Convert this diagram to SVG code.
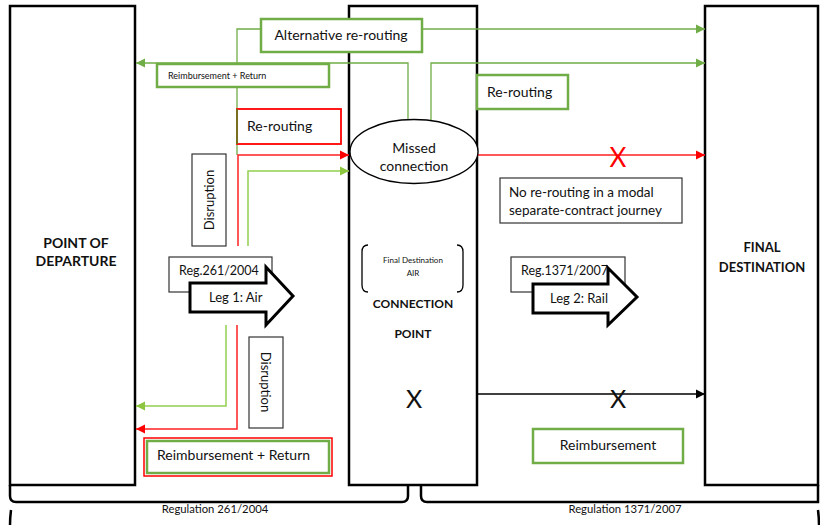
<svg xmlns="http://www.w3.org/2000/svg" width="820" height="525" viewBox="0 0 820 525">
<defs>
<style>
text{font-family:Lato,"Open Sans","Liberation Sans",sans-serif;fill:#111}
.big{stroke:#000;stroke-width:2.5;fill:#fff}
.gbox{fill:#fff;stroke:#70AD47;stroke-width:2.5}
.kbox{fill:#fff;stroke:#333;stroke-width:1.2}
.gl{fill:none;stroke:#70AD47;stroke-width:1.3}
.lg{fill:none;stroke:#92D050;stroke-width:1.5}
.rl{fill:none;stroke:#FF2020;stroke-width:1.5}
.kl{fill:none;stroke:#000;stroke-width:1.3}
.brk{fill:none;stroke:#000;stroke-width:2.5}
.hd{font-weight:bold;font-size:13px;text-anchor:middle}
.leg{fill:#fff;stroke:#000;stroke-width:3;stroke-linejoin:miter}
</style>
<marker id="ag" viewBox="0 0 10 10" refX="10" refY="5" markerWidth="9" markerHeight="10" markerUnits="userSpaceOnUse" orient="auto"><path d="M0,0L10,5L0,10z" fill="#70AD47"/></marker>
<marker id="alg" viewBox="0 0 10 10" refX="10" refY="5" markerWidth="9" markerHeight="10" markerUnits="userSpaceOnUse" orient="auto"><path d="M0,0L10,5L0,10z" fill="#8CC63F"/></marker>
<marker id="ar" viewBox="0 0 10 10" refX="10" refY="5" markerWidth="9" markerHeight="10" markerUnits="userSpaceOnUse" orient="auto"><path d="M0,0L10,5L0,10z" fill="#FF0000"/></marker>
<marker id="ak" viewBox="0 0 10 10" refX="10" refY="5" markerWidth="9" markerHeight="10" markerUnits="userSpaceOnUse" orient="auto"><path d="M0,0L10,5L0,10z" fill="#000"/></marker>
</defs>
<rect width="820" height="525" fill="#fff"/>

<g id="departure">
<rect class="big" x="10" y="6" width="125" height="479"/>
<text class="hd" x="76" y="248" style="font-size:14px">POINT OF</text>
<text class="hd" x="76" y="266" style="font-size:14px">DEPARTURE</text>
</g>
<g id="connection-point">
<rect class="big" x="349" y="6" width="128" height="479"/>
<path class="kl" d="M368,245Q362,245 362,252V285Q362,292 368,292M457,245Q463,245 463,252V285Q463,292 457,292"/>
<text x="413" y="263" font-size="8" text-anchor="middle" fill="#333">Final Destination</text>
<text x="413" y="276" font-size="8" text-anchor="middle" fill="#333">AIR</text>
<text class="hd" x="413" y="308" style="font-size:12px">CONNECTION</text>
<text class="hd" x="413" y="338" style="font-size:12px">POINT</text>
<text x="414" y="408" font-size="25" text-anchor="middle">X</text>
</g>
<g id="final-destination">
<rect class="big" x="705" y="6" width="113" height="479"/>
<text class="hd" x="762" y="252">FINAL</text>
<text class="hd" x="762" y="272">DESTINATION</text>
</g>

<g id="connectors">
<path class="gl" d="M237,155V29H261"/>
<path class="gl" d="M422,29H705" marker-end="url(#ag)"/>
<path class="gl" d="M408,120V63H136" marker-end="url(#ag)"/>
<path class="gl" d="M431,120V63H705" marker-end="url(#ag)"/>
<path class="rl" d="M238,246V155H349" marker-end="url(#ar)"/>
<path class="lg" d="M248,246V171H349" marker-end="url(#alg)"/>
<path class="rl" d="M478,155H705" marker-end="url(#ar)"/>
<path class="lg" d="M226,325V406H136" marker-end="url(#alg)"/>
<path class="rl" d="M237,325V429H136" marker-end="url(#ar)"/>
<path class="kl" d="M477,394H705" marker-end="url(#ak)"/>
</g>

<g id="alt-rerouting">
<rect class="gbox" x="261" y="19" width="161" height="33"/>
<text x="341" y="40" font-size="14" text-anchor="middle">Alternative re-routing</text>
</g>
<g id="reimb-return-top">
<rect class="gbox" x="157" y="64" width="172" height="23"/>
<text x="168" y="79" font-size="9">Reimbursement + Return</text>
</g>
<g id="rerouting-right">
<rect class="gbox" x="477" y="75" width="91" height="34"/>
<text x="487" y="97" font-size="14">Re-routing</text>
</g>
<g id="rerouting-red">
<rect x="237" y="109" width="104" height="35" fill="#fff" stroke="#FF0000" stroke-width="1.8"/>
<path d="M237,109V144" stroke="#6B7A20" stroke-width="1.8"/>
<text x="247" y="131" font-size="14">Re-routing</text>
</g>
<g id="missed-connection">
<ellipse cx="414" cy="151.5" rx="64" ry="32" fill="#fff" stroke="#000" stroke-width="1.3"/>
<text x="414" y="153" font-size="14" text-anchor="middle">Missed</text>
<text x="414" y="171" font-size="14" text-anchor="middle">connection</text>
</g>
<g id="x-red">
<text x="618" y="167" font-size="26" text-anchor="middle" style="fill:#FF0000">X</text>
</g>
<g id="no-rerouting">
<rect class="kbox" x="500" y="178" width="182" height="45"/>
<text x="509" y="197" font-size="13.5">No re-routing in a modal</text>
<text x="509" y="215" font-size="13.5">separate-contract journey</text>
</g>
<g id="disruption-top">
<rect class="kbox" x="192" y="154" width="34" height="92"/>
<text transform="translate(214,200) rotate(-90)" font-size="13" text-anchor="middle">Disruption</text>
</g>
<g id="reg261">
<rect class="kbox" x="169" y="257" width="103" height="35"/>
<text x="179" y="275" font-size="12.5">Reg.261/2004</text>
</g>
<g id="leg1">
<polygon class="leg" points="190,283 266,283 266,267 293,296 266,325 266,312 190,312"/>
<text x="209" y="302" font-size="13">Leg 1: Air</text>
</g>
<g id="reg1371">
<rect class="kbox" x="511" y="257" width="114" height="35"/>
<text x="521" y="275" font-size="12.5">Reg.1371/2007</text>
</g>
<g id="leg2">
<polygon class="leg" points="533,284 608,284 608,268 637,297 608,325 608,313 533,313"/>
<text x="550" y="303" font-size="13">Leg 2: Rail</text>
</g>
<g id="disruption-bottom">
<rect class="kbox" x="249" y="337" width="34" height="91"/>
<text transform="translate(261,382) rotate(90)" font-size="13" text-anchor="middle">Disruption</text>
</g>
<g id="x-mid">
<text x="618" y="408" font-size="25" text-anchor="middle">X</text>
</g>
<g id="reimb-return-bottom">
<rect x="144" y="438" width="188" height="38" fill="#fff" stroke="#FF0000" stroke-width="1.5"/>
<rect x="147" y="441" width="182" height="32" fill="none" stroke="#70AD47" stroke-width="2.5"/>
<text x="157" y="460" font-size="14">Reimbursement + Return</text>
</g>
<g id="reimbursement">
<rect class="gbox" x="533" y="429" width="150" height="34"/>
<text x="608" y="450" font-size="14" text-anchor="middle">Reimbursement</text>
</g>

<g id="brackets">
<path class="brk" d="M10,485V496Q10,502 16,502H402Q408,502 408,496V485"/>
<path class="brk" d="M421,485V496Q421,502 427,502H818V485"/>
<path class="brk" d="M11,510Q10,518 10,525"/>
<path class="brk" d="M818,510Q819,518 819,525"/>
<text x="215" y="513" font-size="11.3" text-anchor="middle" fill="#333">Regulation 261/2004</text>
<text x="625" y="513" font-size="11.3" text-anchor="middle" fill="#333">Regulation 1371/2007</text>
</g>
</svg>
